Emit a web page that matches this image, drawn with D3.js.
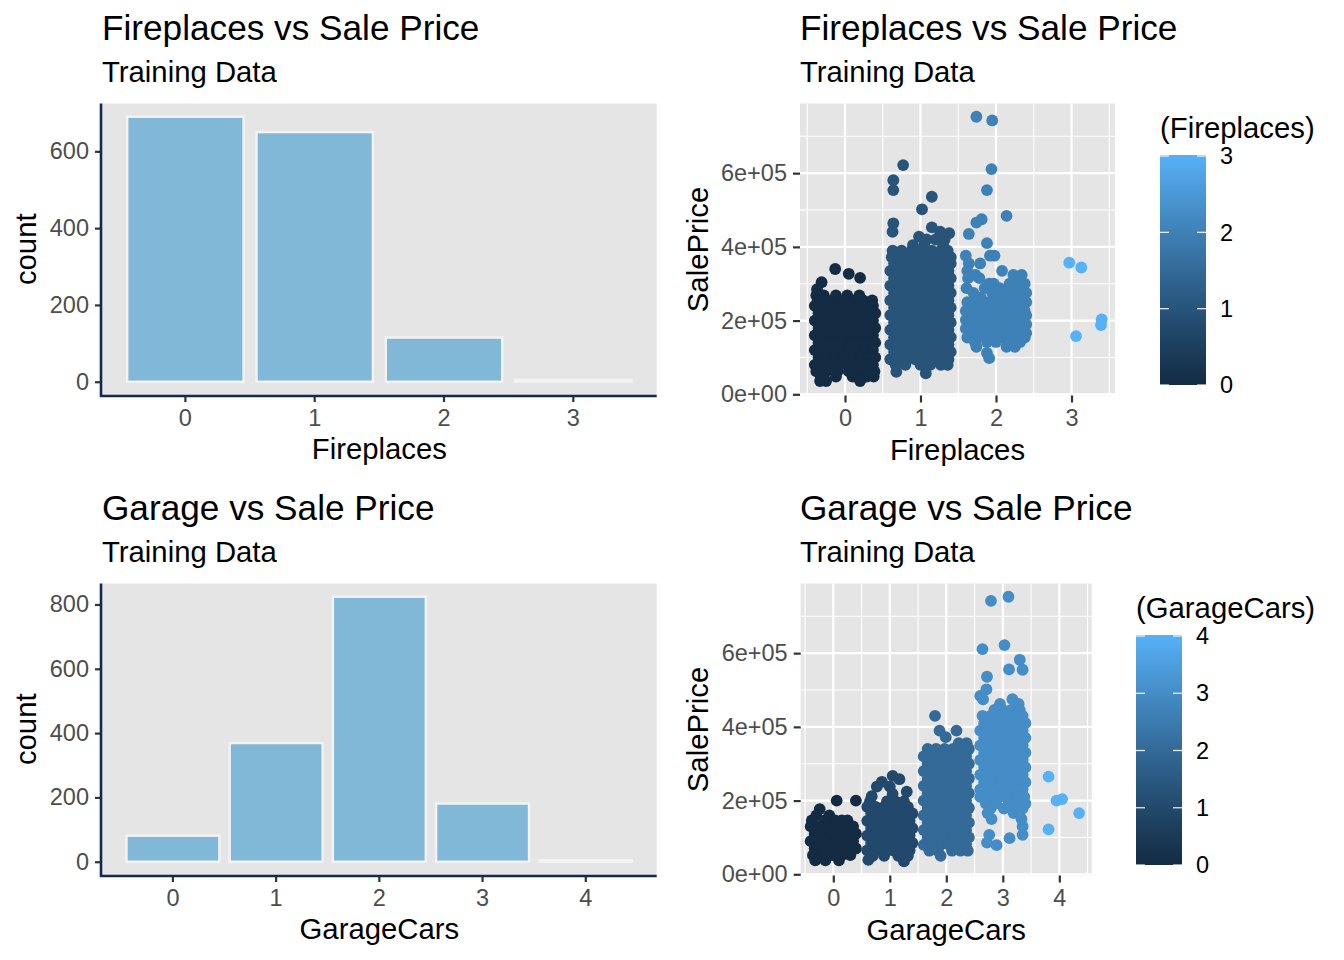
<!DOCTYPE html>
<html>
<head>
<meta charset="utf-8">
<script src="https://cdn.jsdelivr.net/npm/d3@7"></script>
<style>
  body { margin: 0; background: #fff; }
  svg text { font-family: "Liberation Sans", Arial, Helvetica, sans-serif; }
</style>
</head>
<body>
<div id="chart"></div>
<script>
// ------ values ------

// bar charts
const fireplaceLevels = ["0", "1", "2", "3"];
const fireplaceCounts = [690, 650, 115, 5];
const garageLevels = ["0", "1", "2", "3", "4"];
const garageCounts = [81, 369, 824, 181, 5];

const fireCountTicks = [0, 200, 400, 600];
const garageCountTicks = [0, 200, 400, 600, 800];

// scatter axes
const priceTicks = [0, 2e5, 4e5, 6e5];
const priceTickLabels = ["0e+00", "2e+05", "4e+05", "6e+05"];

// jitter offsets in the packed part of each cloud (fireplaces / garage)
const fjA = [-0.4, -0.29, -0.18, -0.07, 0.04, 0.15, 0.26, 0.37];
const fjB = [-0.35, -0.24, -0.13, -0.02, 0.09, 0.2, 0.31, 0.4];
const gjA = [-0.4, -0.25, -0.1, 0.05, 0.2, 0.35];
const gjB = [-0.33, -0.18, -0.03, 0.12, 0.27, 0.4];

// SalePrice (thousands) and the jitter offsets of the points at that price
const fireSale0 = [
  [340, [-0.13]], [327, [0.05]], [316, [0.2]], [304, [-0.31]], [285, [-0.37]],
  [268, [-0.38, -0.28, -0.12, 0.03, 0.19]],
  [255, [-0.36, -0.24, -0.12, 0.0, 0.12, 0.24, 0.36]],
  [240, fjA], [220, fjB], [200, fjA], [180, fjB], [160, fjA], [140, fjB], [120, fjA], [100, fjB], [80, fjA],
  [62, [-0.38, -0.25, -0.1, 0.05, 0.18, 0.32, 0.39]],
  [48, [-0.32, -0.12, 0.1, 0.29, 0.38]],
  [36, [-0.33, -0.25, 0.2]]
];
const fireSale1 = [
  [622, [-0.23]], [581, [-0.36]], [554, [-0.36]], [536, [0.15]], [502, [0.02]],
  [464, [-0.36]], [453, [0.15]], [441, [-0.37, 0.26]], [437, [0.38]], [428, [-0.02]],
  [420, [0.08, 0.2, 0.32]], [405, [-0.1, 0.05, 0.3]],
  [390, [-0.37, -0.25, -0.12, 0.02, 0.15, 0.27, 0.36]],
  [372, [-0.38, -0.3, -0.18, -0.05, 0.08, 0.2, 0.33, 0.4]],
  [355, fjB], [335, fjA], [315, fjB], [295, fjA], [275, fjB], [255, fjA], [235, fjB],
  [215, fjA], [195, fjB], [175, fjA], [155, fjB], [135, fjA], [115, fjB], [95, fjA],
  [80, [-0.33, -0.2, 0.0, 0.13, 0.27, 0.36]],
  [61, [-0.32]], [57, [0.07]]
];
const fireSale2 = [
  [753, [-0.26]], [743, [-0.05]], [611, [-0.06]], [554, [-0.12]], [484, [0.14]],
  [475, [-0.19]], [466, [-0.26]], [435, [-0.36]], [410, [-0.12]],
  [376, [-0.4, -0.08, -0.02]], [355, [-0.36, -0.21]], [335, [-0.38, 0.08]],
  [324, [-0.27, 0.23, 0.34]], [315, [-0.37, -0.22, 0.3]],
  [300, [-0.09, -0.03, 0.18, 0.38]], [288, [-0.39, -0.15, 0.05, 0.25]],
  [275, [-0.3, -0.05, 0.12, 0.3, 0.4]], [262, [-0.2, 0.0, 0.2, 0.36]],
  [250, [-0.38, -0.28, -0.1, 0.08, 0.28, 0.4]], [238, [-0.2, -0.02, 0.15, 0.33]],
  [226, [-0.4, -0.3, -0.12, 0.05, 0.22, 0.38]], [214, [-0.22, -0.05, 0.12, 0.3, 0.4]],
  [202, [-0.4, -0.3, -0.14, 0.02, 0.2, 0.35]], [190, [-0.36, -0.22, -0.06, 0.1, 0.27, 0.4]],
  [178, [-0.4, -0.28, -0.12, 0.05, 0.2, 0.34]], [166, [-0.34, -0.2, -0.02, 0.14, 0.3, 0.4]],
  [154, [-0.38, -0.25, -0.1, 0.08, 0.24, 0.38]], [142, [-0.28, -0.12, 0.0, 0.18, 0.32]],
  [129, [-0.26, 0.14, 0.25]], [112, [-0.12]], [98, [-0.09]]
];
const fireSale3 = [
  [357, [-0.03]], [344, [0.13]], [203, [0.4]], [188, [0.39]], [158, [0.06]]
];

const garageSale0 = [
  [200, [0.06, 0.4]], [177, [-0.24]], [160, [-0.3, -0.07]],
  [146, [-0.38, -0.15, 0.03, 0.15, 0.25]],
  [130, gjA], [110, gjB], [90, gjA], [70, gjB],
  [52, [-0.36, -0.2, -0.02, 0.15, 0.3]],
  [38, [-0.32, -0.14, 0.1]]
];
const garageSale1 = [
  [267, [0.05]], [258, [0.17]], [251, [-0.14]], [238, [-0.23, 0.0]], [224, [0.3]],
  [218, [0.05]], [212, [-0.32]],
  [198, [-0.35, -0.05, 0.1, 0.25]],
  [183, [-0.4, -0.25, -0.1, 0.05, 0.2, 0.32]],
  [165, gjB], [145, gjA], [125, gjB], [105, gjA], [85, gjB], [65, gjA],
  [50, [-0.3, -0.1, 0.15, 0.32]],
  [39, [-0.38]], [35, [0.25]]
];
const garageSale2 = [
  [430, [-0.2]], [390, [-0.12, 0.18]], [372, [-0.01]],
  [356, [0.22, 0.36]],
  [340, gjB], [320, gjA], [300, gjB], [280, gjA], [260, gjB], [240, gjA], [220, gjB],
  [200, gjA], [180, gjB], [160, gjA], [140, gjB], [120, gjA], [100, gjB], [80, gjA],
  [64, [-0.3, -0.15, 0.1, 0.25, 0.38]],
  [50, [-0.1]]
];
const garageSale3 = [
  [753, [0.1]], [742, [-0.21]], [622, [0.03]], [611, [-0.36]], [582, [0.3]],
  [556, [0.11]], [555, [0.35]], [536, [-0.28]], [502, [-0.29]], [484, [-0.4]],
  [475, [-0.35, 0.17]], [462, [-0.05, 0.28]],
  [446, [-0.15, 0.0, 0.15, 0.3]],
  [430, [-0.36, -0.22, -0.08, 0.08, 0.22, 0.35]],
  [410, gjB], [390, gjA], [370, gjB], [350, gjA], [330, gjB], [310, gjA],
  [290, gjB], [270, gjA], [250, gjB], [230, gjA],
  [210, [-0.4, -0.22, -0.05, 0.1, 0.28, 0.38]],
  [192, [-0.3, -0.12, 0.1, 0.25, 0.4]],
  [178, [-0.22, 0.02, 0.35]], [166, [-0.27, 0.19]], [150, [-0.2, 0.33]],
  [130, [0.35]], [107, [-0.24, 0.35]], [98, [0.12]], [86, [-0.28]], [79, [-0.11]]
];
const garageSale4 = [
  [265, [-0.19]], [204, [0.05]], [200, [-0.05]], [166, [0.35]], [122, [-0.19]]
];

// ------ styling ------
const lowColor = "#132B43";
const highColor = "#56B1F7";
const barFill = "#82B8D7";
const barEdge = "#F3F3F3";
const axisNavy = "#14294F";
const panelGrey = "#E5E5E5";
const tickGrey = "#4D4D4D";
const tickLine = "#333333";
const tickFont = 23.5;
const labelFont = 29.3;

const svg = d3.select("#chart")
  .append("svg")
  .attr("width", 1344)
  .attr("height", 960);

function titles(x, y, main, sub) {
  svg.append("text").attr("x", x).attr("y", y)
    .style("font-size", "35.2px").attr("fill", "#000").text(main);
  svg.append("text").attr("x", x).attr("y", y + 42)
    .style("font-size", labelFont + "px").attr("fill", "#000").text(sub);
}

function styleAxis(g) {
  g.select(".domain").remove();
  g.selectAll(".tick line").attr("stroke", tickLine).attr("stroke-width", 2.2);
  g.selectAll(".tick text")
    .attr("fill", tickGrey)
    .style("font-size", tickFont + "px")
    .style("font-family", '"Liberation Sans", Arial, Helvetica, sans-serif');
}

function axisTitles(box, xLabel, yLabel, yLabelX) {
  svg.append("text")
    .attr("x", (box.left + box.right) / 2)
    .attr("y", box.bottom + 64)
    .attr("text-anchor", "middle")
    .style("font-size", labelFont + "px")
    .text(xLabel);
  svg.append("text")
    .attr("transform", `translate(${yLabelX},${(box.top + box.bottom) / 2}) rotate(-90)`)
    .attr("text-anchor", "middle")
    .style("font-size", labelFont + "px")
    .text(yLabel);
}

// bar chart of counts
function barPanel(box, levels, counts, yTicks, xLabel, outerPad) {
  const x = d3.scaleBand()
    .domain(levels)
    .range([box.left, box.right])
    .paddingInner(0.1)
    .paddingOuter(outerPad);
  const top = d3.max(counts);
  const y = d3.scaleLinear()
    .domain([-0.05 * top, 1.05 * top])
    .range([box.bottom, box.top]);

  svg.append("rect")
    .attr("x", box.left).attr("y", box.top)
    .attr("width", box.right - box.left).attr("height", box.bottom - box.top)
    .attr("fill", panelGrey);

  svg.append("g")
    .selectAll("rect")
    .data(levels)
    .enter()
    .append("rect")
    .attr("x", d => x(d))
    .attr("width", x.bandwidth())
    .attr("y", (d, i) => y(counts[i]))
    .attr("height", (d, i) => y(0) - y(counts[i]))
    .attr("fill", barFill)
    .attr("stroke", barEdge)
    .attr("stroke-width", 2.4);

  const xa = svg.append("g")
    .attr("transform", `translate(0,${box.bottom})`)
    .call(d3.axisBottom(x).tickSize(7).tickPadding(7));
  styleAxis(xa);

  const ya = svg.append("g")
    .attr("transform", `translate(${box.left},0)`)
    .call(d3.axisLeft(y).tickValues(yTicks).tickSize(7).tickPadding(6));
  styleAxis(ya);

  // navy axis lines
  svg.append("path")
    .attr("d", `M${box.left - 1},${box.top} V${box.bottom + 1} H${box.right}`)
    .attr("fill", "none")
    .attr("stroke", axisNavy)
    .attr("stroke-width", 2.6);

  axisTitles(box, xLabel, "count", 36);
}

// jittered SalePrice scatter with colour bar
function scatterPanel(box, groups, xDomain, xLabel, legend) {
  const maxLevel = groups.length - 1;
  const x = d3.scaleLinear().domain(xDomain).range([box.left, box.right]);
  const y = d3.scaleLinear().domain([-3260, 789000]).range([box.bottom, box.top]);
  const colour = d3.scaleLinear()
    .domain([0, maxLevel])
    .range([lowColor, highColor])
    .interpolate(d3.interpolateLab);

  const points = [];
  groups.forEach(function (rows, level) {
    rows.forEach(function (row) {
      row[1].forEach(function (off) {
        points.push({ level: level, x: level + off, price: row[0] * 1000 });
      });
    });
  });

  svg.append("rect")
    .attr("x", box.left).attr("y", box.top)
    .attr("width", box.right - box.left).attr("height", box.bottom - box.top)
    .attr("fill", panelGrey);

  const levels = d3.range(0, maxLevel + 1);
  const minorX = levels.map(d => d - 0.5).concat([maxLevel + 0.5])
    .filter(d => d > xDomain[0] && d < xDomain[1]);
  const minorY = [1e5, 3e5, 5e5, 7e5];

  const grid = svg.append("g");
  grid.selectAll(".mx").data(minorX).enter().append("line")
    .attr("x1", d => x(d)).attr("x2", d => x(d))
    .attr("y1", box.top).attr("y2", box.bottom)
    .attr("stroke", "#fff").attr("stroke-width", 1.1);
  grid.selectAll(".my").data(minorY).enter().append("line")
    .attr("x1", box.left).attr("x2", box.right)
    .attr("y1", d => y(d)).attr("y2", d => y(d))
    .attr("stroke", "#fff").attr("stroke-width", 1.1);
  grid.selectAll(".Mx").data(levels).enter().append("line")
    .attr("x1", d => x(d)).attr("x2", d => x(d))
    .attr("y1", box.top).attr("y2", box.bottom)
    .attr("stroke", "#fff").attr("stroke-width", 2.2);
  grid.selectAll(".My").data(priceTicks).enter().append("line")
    .attr("x1", box.left).attr("x2", box.right)
    .attr("y1", d => y(d)).attr("y2", d => y(d))
    .attr("stroke", "#fff").attr("stroke-width", 2.2);

  svg.append("g")
    .selectAll("circle")
    .data(points)
    .enter()
    .append("circle")
    .attr("cx", d => x(d.x))
    .attr("cy", d => y(d.price))
    .attr("r", 5.9)
    .attr("fill", d => colour(d.level));

  const xa = svg.append("g")
    .attr("transform", `translate(0,${box.bottom})`)
    .call(d3.axisBottom(x).tickValues(levels).tickFormat(d3.format("d")).tickSize(7).tickPadding(7));
  styleAxis(xa);

  const ya = svg.append("g")
    .attr("transform", `translate(${box.left},0)`)
    .call(d3.axisLeft(y).tickValues(priceTicks)
      .tickFormat((d, i) => priceTickLabels[i]).tickSize(7).tickPadding(6));
  styleAxis(ya);

  axisTitles(box, xLabel, "SalePrice", 708);

  // colour bar legend
  const gradId = "grad" + maxLevel;
  const grad = svg.append("defs").append("linearGradient")
    .attr("id", gradId)
    .attr("x1", 0).attr("y1", 1).attr("x2", 0).attr("y2", 0);
  d3.range(0, 1.0001, 0.1).forEach(function (t) {
    grad.append("stop")
      .attr("offset", t)
      .attr("stop-color", colour(t * maxLevel));
  });

  const lg = svg.append("g");
  lg.append("text")
    .attr("x", legend.x).attr("y", legend.top - 17.5)
    .style("font-size", labelFont + "px")
    .text(legend.title);
  lg.append("rect")
    .attr("x", legend.x).attr("y", legend.top)
    .attr("width", 46).attr("height", legend.bottom - legend.top)
    .attr("fill", `url(#${gradId})`);

  const ly = d3.scaleLinear().domain([0, maxLevel]).range([legend.bottom, legend.top + 1]);
  levels.forEach(function (v) {
    lg.append("line")
      .attr("x1", legend.x).attr("x2", legend.x + 9)
      .attr("y1", ly(v)).attr("y2", ly(v))
      .attr("stroke", "#fff").attr("stroke-opacity", 0.85).attr("stroke-width", 1.3);
    lg.append("line")
      .attr("x1", legend.x + 37).attr("x2", legend.x + 46)
      .attr("y1", ly(v)).attr("y2", ly(v))
      .attr("stroke", "#fff").attr("stroke-opacity", 0.85).attr("stroke-width", 1.3);
    lg.append("text")
      .attr("x", legend.x + 60)
      .attr("y", ly(v))
      .attr("dy", "0.35em")
      .style("font-size", tickFont + "px")
      .attr("fill", "#000")
      .text(v);
  });
}

// ------ the four panels ------
titles(102, 40, "Fireplaces vs Sale Price", "Training Data");
barPanel({ left: 102, right: 656.7, top: 103.5, bottom: 395 },
  fireplaceLevels, fireplaceCounts, fireCountTicks, "Fireplaces", 0.195);

titles(800, 40, "Fireplaces vs Sale Price", "Training Data");
scatterPanel({ left: 800, right: 1115, top: 103.5, bottom: 395.5 },
  [fireSale0, fireSale1, fireSale2, fireSale3],
  [-0.596, 3.576], "Fireplaces",
  { x: 1160, top: 155, bottom: 385, title: "(Fireplaces)" });

titles(102, 520, "Garage vs Sale Price", "Training Data");
barPanel({ left: 102, right: 656.7, top: 583.5, bottom: 875 },
  garageLevels, garageCounts, garageCountTicks, "GarageCars", 0.237);

titles(800, 520, "Garage vs Sale Price", "Training Data");
scatterPanel({ left: 800.7, right: 1091.7, top: 583.5, bottom: 875.5 },
  [garageSale0, garageSale1, garageSale2, garageSale3, garageSale4],
  [-0.577, 4.573], "GarageCars",
  { x: 1136, top: 635, bottom: 865, title: "(GarageCars)" });
</script>
</body>
</html>
